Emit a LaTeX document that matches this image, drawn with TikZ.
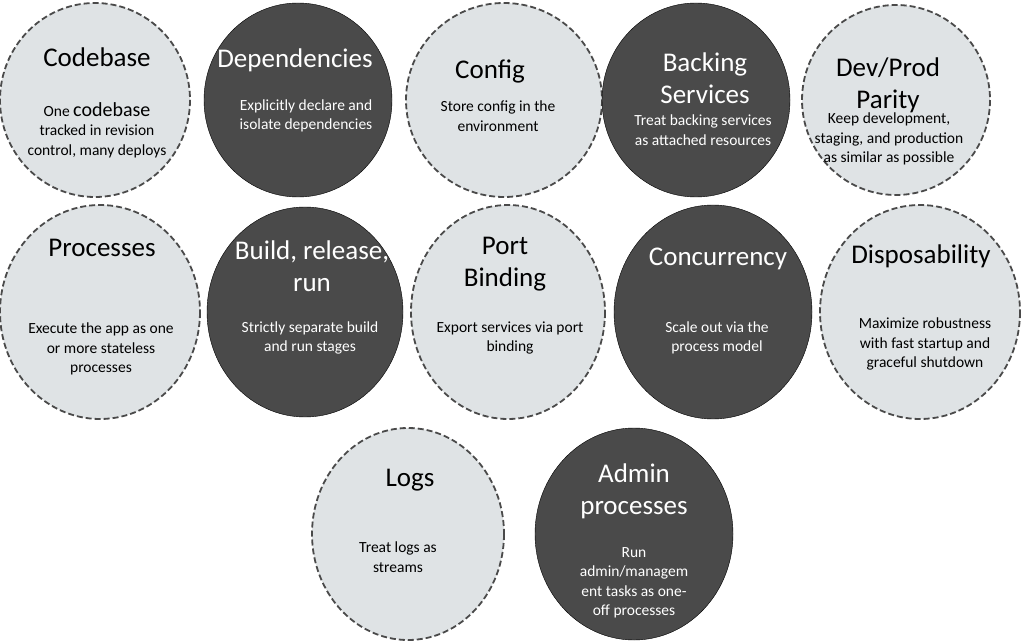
\documentclass[tikz,border=0pt]{standalone}
\usepackage{fontspec}
\setmainfont{Carlito}
\begin{document}
\begin{tikzpicture}[x=1pt,y=-1pt]
        \definecolor{lightfill}{HTML}{DFE3E5}
        \definecolor{darkfill}{HTML}{4A4A4A}
        \tikzstyle{light} = [fill=lightfill, draw=darkfill, line width=1.8pt, dash pattern=on 6pt off 3pt]
        \tikzstyle{dark} = [fill=darkfill]
        \tikzstyle{title} = [align=center, font=\fontsize{27}{32}\selectfont, inner sep=0pt]
        \tikzstyle{desc} = [align=center, font=\fontsize{15.5}{19.5}\selectfont, inner sep=0pt]

                \useasboundingbox (0,0) rectangle (1024,644);

                % row 1
                \draw[light] (95,100) ellipse (95 and 97);
                \node (codebase) [title] at (97,57) {Codebase};
                \node (codebasetxt) [desc] at (97,130) {One {\fontsize{20}{19.5}\selectfont codebase}\\tracked in revision\\control, many deploys};
                \draw[dark] (298,100) ellipse (94 and 97);
                \node (deps) [title, white] at (295,60) {Dependencies};
                \node (depstxt) [desc, white] at (306,116) {Explicitly declare and\\isolate dependencies};
                \draw[light] (504,100) ellipse (98 and 97);
                \node (config) [title] at (490,71) {Config};
                \node (configtxt) [desc] at (498,116) {Store config in the\\environment};
                \draw[dark] (696,100) ellipse (94 and 97);
                \node (backing) [title, white] at (705,78) {Backing\\Services};
                \node (backingtxt) [desc, white] at (703,130) {Treat backing services\\as attached resources};
                \draw[light] (896,100) ellipse (94 and 95);
                \node (parity) [title] at (888,85) {Dev/Prod\\Parity};
                \node (paritytxt) [desc] at (889,139) {Keep development,\\staging, and production\\as similar as possible};

                % row 2
                \draw[light] (100,312) ellipse (100 and 107);
                \node (processes) [title] at (102,248) {Processes};
                \node (processestxt) [desc] at (101,349) {Execute the app as one\\or more stateless\\processes};
                \draw[dark] (305,312) ellipse (98 and 105);
                \node (build) [title, white] at (312,266) {Build, release,\\run};
                \node (buildtxt) [desc, white] at (310,338) {Strictly separate build\\and run stages};
                \draw[light] (508,312) ellipse (97 and 107);
                \node (port) [title] at (505,264) {Port\\Binding};
                \node (porttxt) [desc] at (510,338) {Export services via port\\binding};
                \draw[dark] (713,312) ellipse (99 and 107);
                \node (concurrency) [title, white] at (718,259) {Concurrency};
                \node (concurrencytxt) [desc, white] at (717,338) {Scale out via the\\process model};
                \draw[light] (920,312) ellipse (100 and 107);
                \node (disposability) [title] at (921,256) {Disposability};
                \node (disposabilitytxt) [desc] at (925,344) {Maximize robustness\\with fast startup and\\graceful shutdown};

                % row 3
                \draw[light] (408,534) ellipse (96 and 106);
                \node (logs) [title] at (410,480) {Logs};
                \node (logstxt) [desc] at (398,557) {Treat logs as\\streams};
                \draw[dark] (634,534) ellipse (99 and 106);
                \node (admin) [title, white] at (634,491) {Admin\\processes};
                \node (admintxt) [desc, white] at (634,583) {Run\\admin/managem\\ent tasks as one-\\off processes};
    \end{tikzpicture}
\end{document}
